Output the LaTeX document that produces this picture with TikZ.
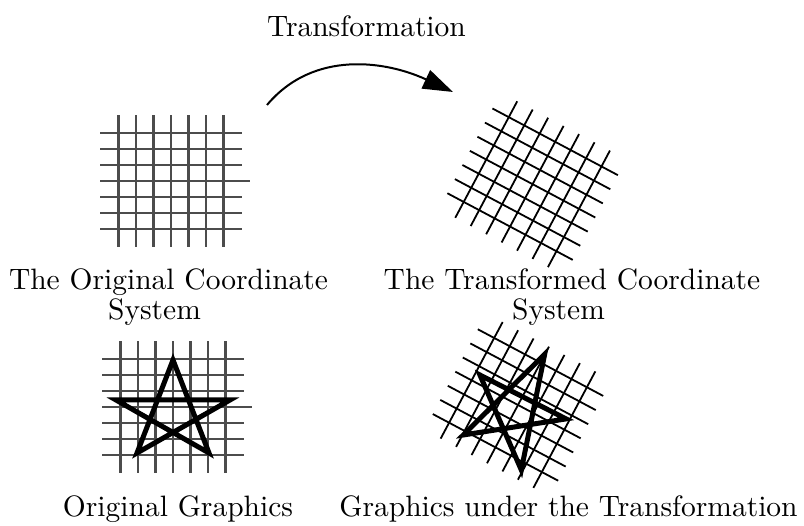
\documentclass[tikz,border=0pt]{standalone}
\usepackage{fontspec}
\setmainfont{lmroman10-regular.otf}
\usetikzlibrary{arrows.meta}
\begin{document}
\begin{tikzpicture}[x=1pt, y=1pt,
    captext/.style={font=\fontsize{29.5}{30}\selectfont, anchor=base, inner sep=0pt},
    oldgrid/.style={line width=2.2pt, black!70},
    newgrid/.style={line width=1.8pt, black},
    starline/.style={line width=5pt, black, line join=miter},
    bigarrow/.style={line width=2pt, -{Triangle[length=30pt, width=20pt]}}]
    \useasboundingbox (0,0) rectangle (804,526);
    % Arrow on top
    \node[captext] (title) at (366.5,489) {Transformation};
    \coordinate (arrowstart) at (267,421);
    \coordinate (arrowend) at (453,434);
    \draw[bigarrow] (arrowstart) to[out=50, in=155] (arrowend);
    % The four grids
    \foreach \cx/\cy/\ang/\sty in {171/345/0/oldgrid, 532.6/341.8/-28/newgrid,
                                   173/119/0/oldgrid, 518/121/-28/newgrid} {
        \begin{scope}[shift={(\cx,\cy)}, rotate=\ang]
            \foreach \i in {-3,...,3} {
                \draw[\sty] (\i*17.5,-66) -- (\i*17.5,66);
                \draw[\sty] (-71,\i*16) -- (71,\i*16);
            }
        \end{scope}
    }
    \draw[oldgrid] (242,345) -- (250,345);
    \draw[oldgrid] (244,119) -- (252,119);
    % Stars
    \begin{scope}[shift={(173,119)}]
        \draw[starline] (0,47) -- (-36,-46) -- (57,7) -- (-57,7) -- (36,-46) -- cycle;
    \end{scope}
    \draw[starline] (544.7,171.8) -- (521.3,56) -- (479.9,151) -- (566.1,107.1) -- (463.3,91) -- cycle;
    % Captions
    \node[captext] (origtext) at (168.5,236) {The Original Coordinate};
    \node[captext] (origsys) at (154.5,206) {System};
    \node[captext] (movedtext) at (572,236) {The Transformed Coordinate};
    \node[captext] (movedsys) at (558.5,206) {System};
    \node[captext] (origgraph) at (178,9) {Original Graphics};
    \node[captext] (movedgraph) at (568.5,9) {Graphics under the Transformation};
\end{tikzpicture}
\end{document}
